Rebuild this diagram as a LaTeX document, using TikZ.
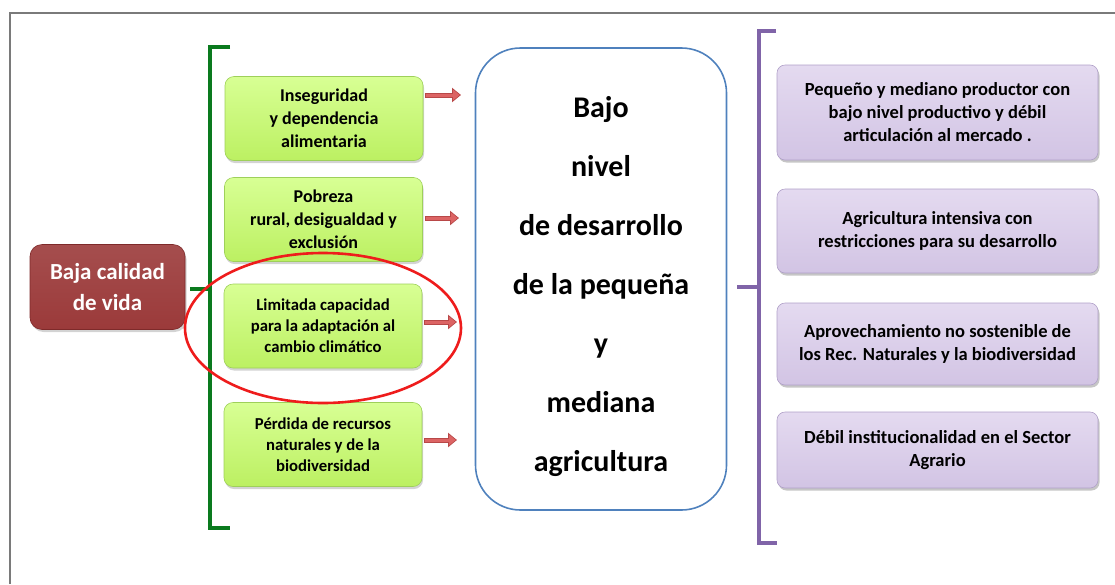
\documentclass[tikz,border=0pt]{standalone}
\usepackage{fontspec}
\setmainfont{Carlito}
\usetikzlibrary{shadows,arrows.meta}
\definecolor{framegray}{HTML}{7A7A7A}
\definecolor{brickred}{HTML}{9B3A3A}
\definecolor{brickdark}{HTML}{7E2A2A}
\definecolor{greentop}{HTML}{D8FF94}
\definecolor{greenbot}{HTML}{BCF062}
\definecolor{greenline}{HTML}{9ED05A}
\definecolor{bracketgreen}{HTML}{0A7A1E}
\definecolor{arrowfill}{HTML}{DC6464}
\definecolor{arrowline}{HTML}{B84848}
\definecolor{bluebox}{HTML}{4F81BD}
\definecolor{purpletop}{HTML}{E4DAF0}
\definecolor{purplebot}{HTML}{D2C4E4}
\definecolor{purpleline}{HTML}{B0A0C8}
\definecolor{bracketpurple}{HTML}{8064A8}
\definecolor{ringred}{HTML}{EE1C1C}
\begin{document}
\begin{tikzpicture}[x=1pt,y=-1pt,
  greenbox/.style={rectangle, rounded corners=9pt, top color=greentop, bottom color=greenbot,
    draw=greenline, line width=0.6pt, minimum width=198pt, minimum height=84pt, align=center,
    inner sep=2pt, font=\bfseries\fontsize{18}{23}\selectfont,
    drop shadow={opacity=0.35, shadow xshift=1pt, shadow yshift=-2.5pt}},
  purplebox/.style={rectangle, rounded corners=8pt, top color=purpletop, bottom color=purplebot,
    draw=purpleline, line width=0.6pt, minimum width=321pt, align=center,
    inner sep=2pt, font=\bfseries\fontsize{18.5}{23}\selectfont,
    drop shadow={opacity=0.45, shadow xshift=1.5pt, shadow yshift=-2.5pt}},
  redbox/.style={rectangle, rounded corners=12pt, top color=brickred!90!white, bottom color=brickred,
    draw=brickdark, line width=0.6pt, minimum width=155pt, minimum height=85pt, align=center,
    text=white, font=\bfseries\fontsize{23}{31}\selectfont,
    drop shadow={opacity=0.35, shadow xshift=1.5pt, shadow yshift=-2.5pt}},
  bluebox/.style={rectangle, rounded corners=45pt, draw=bluebox, line width=1.6pt,
    minimum width=251pt, minimum height=462pt},
  bluetext/.style={align=center, font=\bfseries\fontsize{30}{59}\selectfont},
  fatarrow/.style={line width=5pt, draw=arrowline, -{Triangle[length=9pt,width=14pt]}},
  fatarrowin/.style={line width=3pt, draw=arrowfill, -{Triangle[length=6.5pt,width=10pt]}},
  gbracket/.style={draw=bracketgreen, line width=3.5pt},
  pbracket/.style={draw=bracketpurple, line width=3.5pt},
  ring/.style={draw=ringred, line width=2.6pt}
]
\useasboundingbox (0,0) rectangle (1115,584);
% frame
\draw[framegray, line width=1.6pt] (10,584) -- (10,13) -- (1115,13);

% left red box
\node[redbox] (baja) at (107.5,287) {Baja calidad\\de vida};

% green bracket
\coordinate (gbt) at (230,47);
\coordinate (gbb) at (230,528);
\coordinate (gbm) at (190,289);
\draw[gbracket] (gbt) -- (210,47) -- (210,528) -- (gbb);
\draw[gbracket] (gbm) -- (210,289);

% green boxes
\node[greenbox] (g1) at (324,118.5) {Inseguridad\\y dependencia\\alimentaria};
\node[greenbox] (g2) at (323.5,219.5) {Pobreza\\rural, desigualdad y\\exclusión};
\node[greenbox, font=\bfseries\fontsize{16.7}{21}\selectfont] (g3) at (323,326) {Limitada capacidad\\para la adaptación al\\cambio climático};
\node[greenbox, font=\bfseries\fontsize{16.7}{21}\selectfont] (g4) at (323,444.5) {Pérdida de recursos\\naturales y de la\\biodiversidad};

% red ellipse
\draw[ring] (323,328) ellipse [x radius=138, y radius=75];

% blue box
\node[bluebox] (centro) at (601,279) {};
\node[bluetext] (centrotxt) at (601,287) {Bajo\\nivel\\de desarrollo\\de la pequeña\\y\\mediana\\agricultura};

% arrows
\coordinate (a1) at (461,95);
\coordinate (a2) at (459,218);
\coordinate (a3) at (457,322);
\coordinate (a4) at (457,440);
\foreach \g/\a in {g1/a1,g2/a2,g3/a3,g4/a4}{
  \draw[fatarrow] ([xshift=2pt]\g.east |- \a) -- (\a);
  \draw[fatarrowin] ([xshift=2.8pt]\g.east |- \a) -- ([xshift=-1.3pt]\a);
}

% purple bracket
\coordinate (pbt) at (776,31);
\coordinate (pbb) at (777,543);
\coordinate (pbm) at (737,287);
\draw[pbracket] (pbt) -- (759,31) -- (759,543) -- (pbb);
\draw[pbracket] (pbm) -- (759,287);

% purple boxes
\node[purplebox, minimum height=95pt] (p1) at (937.5,112.5) {Pequeño y mediano productor con\\bajo nivel productivo y débil\\articulación al mercado .};
\node[purplebox, minimum height=84pt] (p2) at (937.5,231) {Agricultura intensiva con\\restricciones para su desarrollo};
\node[purplebox, minimum height=82pt] (p3) at (937.5,344) {Aprovechamiento no sostenible de\\los Rec. Naturales y la biodiversidad};
\node[purplebox, minimum height=76pt] (p4) at (937.5,450) {Débil institucionalidad en el Sector\\Agrario};
\end{tikzpicture}
\end{document}
